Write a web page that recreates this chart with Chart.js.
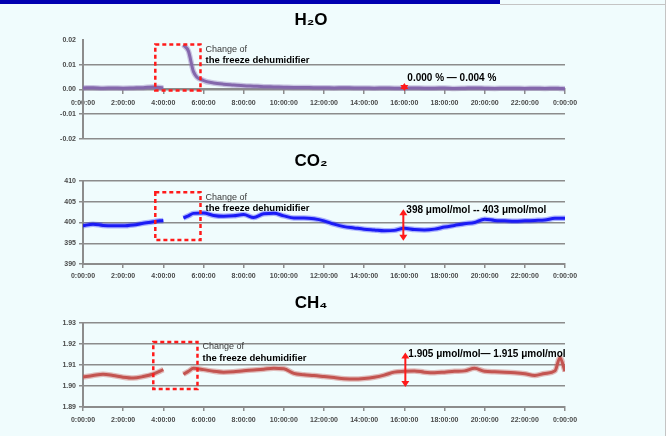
<!DOCTYPE html>
<html>
<head>
<meta charset="utf-8">
<script src="https://cdn.jsdelivr.net/npm/chart.js@4.4.0/dist/chart.umd.min.js"></script>
<style>
    body { margin: 0; background: #ffffff; }
    #cadre { position: absolute; left: 0; top: 0; width: 665px; height: 436px; background: #f0fcfd; border-right: 1px solid #c4c4c4; overflow: hidden; }
    #barre { position: absolute; left: 0; top: 0; width: 500px; height: 4px; background: #0000b0; }
    #ligne { position: absolute; left: 500px; top: 4px; width: 165px; height: 1px; background: #c4c4c4; }
    canvas { position: absolute; left: 0; }
</style>
</head>
<body>
<div id="cadre">
    <div id="barre"></div>
    <div id="ligne"></div>
    <canvas id="GraphiqueH2O" width="640" height="146" style="top: 0px;"></canvas>
    <canvas id="GraphiqueCO2" width="640" height="140" style="top: 142px;"></canvas>
    <canvas id="GraphiqueCH4" width="640" height="142" style="top: 283px;"></canvas>
</div>
<script>
// heures de la journee (0 -> 24 h)
var heures = [0, 0.5, 1, 1.5, 2, 2.5, 3, 3.5, 4, 4.5,
    5, 5.25, 5.5, 6, 6.5, 7, 7.5, 8, 8.5, 9,
    9.5, 10, 10.5, 11, 11.5, 12, 12.5, 13, 13.5, 14,
    14.5, 15, 15.5, 16, 16.5, 17, 17.5, 18, 18.5, 19,
    19.5, 20, 20.5, 21, 21.5, 22, 22.5, 23, 23.5, 23.75, 24];

var valeursH2O = [0.0006, 0.0007, 0.0005, 0.0006, 0.0005, 0.0006, 0.0007, 0.0010, 0.0006, null,
    0.0180, 0.0155, 0.0072, 0.0036, 0.0026, 0.0021, 0.0018, 0.0015, 0.0013, 0.0011,
    0.0010, 0.0009, 0.0008, 0.0008, 0.0007, 0.0007, 0.0006, 0.0007, 0.0006, 0.0006,
    0.0005, 0.0006, 0.0005, 0.0005, 0.0006, 0.0005, 0.0005, 0.0006, 0.0004, 0.0005,
    0.0006, 0.0005, 0.0004, 0.0005, 0.0005, 0.0004, 0.0005, 0.0004, 0.0005, 0.0004, 0.0003];

var valeursCO2 = [399.2, 399.6, 399.3, 399.2, 399.2, 399.4, 399.8, 400.2, 400.5, null,
    401.1, 401.6, 402.2, 402.3, 401.7, 401.5, 401.6, 401.9, 401.2, 402.1,
    402.2, 401.6, 401.1, 401.1, 400.9, 400.4, 399.6, 399.0, 398.7, 398.4,
    398.2, 398.0, 398.1, 398.6, 398.3, 398.2, 398.4, 398.9, 399.3, 399.7,
    400.0, 400.8, 400.5, 400.4, 400.3, 400.4, 400.5, 400.6, 401.0, 401.0, 401.0];

var valeursCH4 = [1.9043, 1.9050, 1.9056, 1.9050, 1.9042, 1.9038, 1.9045, 1.9057, 1.9078, null,
    1.9056, 1.9070, 1.9084, 1.9078, 1.9070, 1.9066, 1.9068, 1.9073, 1.9076, 1.9080,
    1.9084, 1.9082, 1.9060, 1.9054, 1.9050, 1.9045, 1.9040, 1.9035, 1.9033, 1.9036,
    1.9042, 1.9052, 1.9066, 1.9070, 1.9072, 1.9066, 1.9063, 1.9066, 1.9070, 1.9072,
    1.9084, 1.9070, 1.9068, 1.9066, 1.9063, 1.9058, 1.9050, 1.9060, 1.9072, 1.9135, 1.9070];

// graduations
var heuresTicks = [0, 2, 4, 6, 8, 10, 12, 14, 16, 18, 20, 22, 24];
var ticksH2O = [-0.02, -0.01, 0, 0.01, 0.02];
var ticksCO2 = [390, 395, 400, 405, 410];
var ticksCH4 = [1.89, 1.90, 1.91, 1.92, 1.93];

// annotations (heure debut, heure fin, valeur bas, valeur haut)
var boiteH2O = [3.6, 5.85, -0.0004, 0.0182];
var boiteCO2 = [3.6, 5.85, 395.8, 407.3];
var boiteCH4 = [3.5, 5.7, 1.8986, 1.9210];
// fleches (heure, valeur bas, valeur haut)
var flecheH2O = [16.0, -0.0006, 0.0026];
var flecheCO2 = [15.95, 395.6, 403.2];
var flecheCH4 = [16.05, 1.8995, 1.9160];

var texteH2O = '0.000 % \u2014 0.004 %';
var texteCO2 = '398 \u03bcmol/mol -- 403 \u03bcmol/mol';
var texteCH4 = '1.905 \u03bcmol/mol\u2014 1.915 \u03bcmol/mol';

var police = '"Liberation Sans", Arial, sans-serif';
var gris = '#8c8c8c';

function GetPoints(valeurs) {
    var points = [];
    var taille = heures.length;
    var i = 0;

    while (i < taille) {
        points.push({ x: heures[i], y: valeurs[i] });
        i++;
    }

    return points;
}

function GetTicks(liste) {
    var ticks = [];
    var i = 0;

    while (i < liste.length) {
        ticks.push({ value: liste[i] });
        i++;
    }
    return ticks;
}

var marques = {
    id: 'marques',
    afterDatasetsDraw: function (chart, args, opts) {
        var ctx = chart.ctx;
        var sx = chart.scales.x;
        var sy = chart.scales.y;

        var b = opts.boite;
        var x0 = sx.getPixelForValue(b[0]);
        var x1 = sx.getPixelForValue(b[1]);
        var y0 = sy.getPixelForValue(b[3]);
        var y1 = sy.getPixelForValue(b[2]);

        ctx.save();
        ctx.strokeStyle = '#ff1a1a';
        ctx.lineWidth = 2.5;
        ctx.setLineDash([4, 3]);
        ctx.strokeRect(x0, y0, x1 - x0, y1 - y0);
        ctx.setLineDash([]);

        ctx.textAlign = 'left';
        ctx.textBaseline = 'middle';
        ctx.fillStyle = '#3a3a3a';
        ctx.font = '9px ' + police;
        ctx.fillText('Change of', x1 + 5, y0 + 5);
        ctx.fillStyle = '#000000';
        ctx.font = 'bold 9.5px ' + police;
        ctx.fillText('the freeze dehumidifier', x1 + 5, y0 + 16);

        var f = opts.fleche;
        var fx = sx.getPixelForValue(f[0]);
        var fb = sy.getPixelForValue(f[1]);
        var fh = sy.getPixelForValue(f[2]);
        ctx.strokeStyle = '#ff1a1a';
        ctx.fillStyle = '#ff1a1a';
        ctx.lineWidth = 2;
        ctx.beginPath();
        ctx.moveTo(fx, fh + 3);
        ctx.lineTo(fx, fb - 3);
        ctx.stroke();
        ctx.beginPath();
        ctx.moveTo(fx, fh);
        ctx.lineTo(fx - 4, fh + 6);
        ctx.lineTo(fx + 4, fh + 6);
        ctx.closePath();
        ctx.fill();
        ctx.beginPath();
        ctx.moveTo(fx, fb);
        ctx.lineTo(fx - 4, fb - 6);
        ctx.lineTo(fx + 4, fb - 6);
        ctx.closePath();
        ctx.fill();

        ctx.fillStyle = '#000000';
        ctx.font = 'bold 10px ' + police;
        ctx.fillText(opts.texte, fx + 3, fh + opts.dy);
        ctx.restore();
    }
};

function CreerGraphique(id, titre, valeurs, couleur, halo, graduations, decimales, axeAuZero, annotations, mise) {
    var ctx = document.getElementById(id).getContext('2d');

    var axeX = {
        type: 'linear',
        min: 0,
        max: 24,
        position: axeAuZero ? { y: 0 } : 'bottom',
        afterBuildTicks: function (scale) { scale.ticks = GetTicks(heuresTicks); },
        ticks: {
            autoSkip: false,
            maxRotation: 0,
            padding: mise.paddingX,
            color: '#4a4a4a',
            font: { size: 7, weight: 'bold', family: police },
            callback: function (v) { return (v % 24) + ':00:00'; }
        },
        grid: { drawOnChartArea: false, drawTicks: true, tickLength: 4, color: gris, lineWidth: 1.5 },
        border: { color: gris, width: 2 }
    };
    if (!axeAuZero) {
        axeX.afterFit = function (scale) { scale.height = 18; };
    }

    var grafique = new Chart(ctx, {
        type: 'line',
        data: {
            datasets: [
                {
                    label: titre,
                    data: GetPoints(valeurs),
                    borderColor: halo,
                    borderWidth: 5.5,
                    pointRadius: 0,
                    cubicInterpolationMode: 'monotone',
                    spanGaps: false
                },
                {
                    label: titre,
                    data: GetPoints(valeurs),
                    borderColor: couleur,
                    borderWidth: 3,
                    pointRadius: 0,
                    cubicInterpolationMode: 'monotone',
                    spanGaps: false
                }
            ]
        },
        options: {
            responsive: false,
            animation: false,
            layout: { padding: { left: 57, right: 75, top: 0, bottom: mise.bas } },
            scales: {
                x: axeX,
                y: {
                    min: graduations[0],
                    max: graduations[graduations.length - 1],
                    afterBuildTicks: function (scale) { scale.ticks = GetTicks(graduations); },
                    afterFit: function (scale) { scale.width = 26; },
                    ticks: {
                        padding: 3,
                        color: '#4a4a4a',
                        font: { size: 7, weight: 'bold', family: police },
                        callback: function (v) { return v.toFixed(decimales); }
                    },
                    grid: {
                        tickLength: 4,
                        lineWidth: 1.5,
                        color: function (c) {
                            if (mise.sansHaut && c.tick && c.tick.value === graduations[graduations.length - 1]) {
                                return 'rgba(0,0,0,0)';
                            }
                            return gris;
                        }
                    },
                    border: { color: gris, width: 2 }
                }
            },
            plugins: {
                legend: { display: false },
                tooltip: { enabled: false },
                title: {
                    display: true,
                    text: titre,
                    color: '#000000',
                    font: { size: 17, weight: 'bold', family: police },
                    padding: { top: mise.titreHaut, bottom: mise.titreBas }
                },
                marques: annotations
            }
        },
        plugins: [marques]
    });
    return grafique;
}

CreerGraphique('GraphiqueH2O', 'H\u2082O', valeursH2O, '#7f62a6', 'rgba(140,112,182,0.4)', ticksH2O, 2, true,
    { boite: boiteH2O, fleche: flecheH2O, texte: texteH2O, dy: -5 },
    { bas: 7, paddingX: 5, titreHaut: 9.8, titreBas: 9.8, sansHaut: true });

CreerGraphique('GraphiqueCO2', 'CO\u2082', valeursCO2, '#1414f0', 'rgba(40,40,255,0.35)', ticksCO2, 0, false,
    { boite: boiteCO2, fleche: flecheCO2, texte: texteCO2, dy: 1 },
    { bas: 0, paddingX: 4, titreHaut: 9, titreBas: 9.6, sansHaut: false });

CreerGraphique('GraphiqueCH4', 'CH\u2084', valeursCH4, '#c0504d', 'rgba(200,90,86,0.4)', ticksCH4, 2, false,
    { boite: boiteCH4, fleche: flecheCH4, texte: texteCH4, dy: 2 },
    { bas: 0, paddingX: 5, titreHaut: 10, titreBas: 9.6, sansHaut: false });
</script>
</body>
</html>
